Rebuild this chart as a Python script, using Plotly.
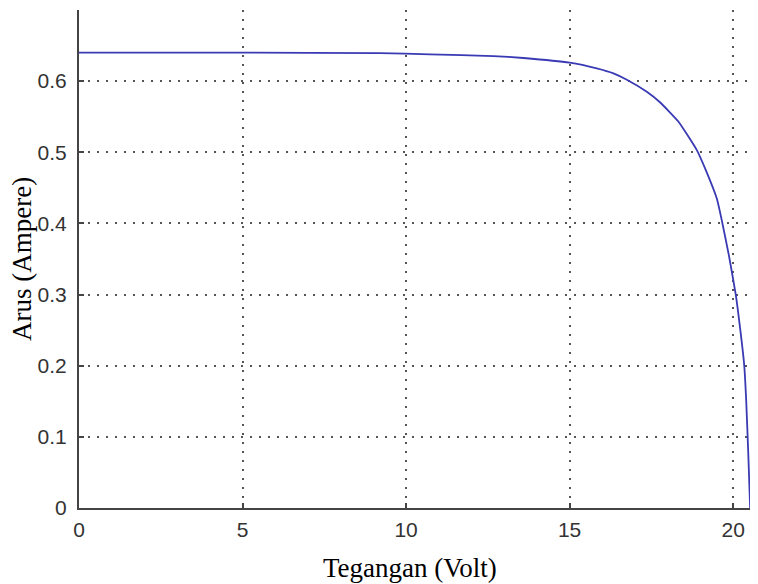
import plotly.graph_objects as go

# Data (I-V curve of a solar panel)
voltage = [0, 5, 9.2, 10.73, 12.67, 13.59, 15.0, 15.83, 16.34, 16.75, 17.36, 17.77,
           18.33, 18.89, 19.19, 19.5, 19.65, 19.87, 20.08, 20.22, 20.34, 20.40, 20.46, 20.52]
current = [0.64, 0.64, 0.6395, 0.6376, 0.6353, 0.6325, 0.626, 0.618, 0.611, 0.602, 0.585, 0.570,
           0.543, 0.503, 0.472, 0.435, 0.405, 0.355, 0.3, 0.25, 0.2, 0.15, 0.08, 0.0]

x_ticks = [0, 5, 10, 15, 20]
y_ticks = [0, 0.1, 0.2, 0.3, 0.4, 0.5, 0.6]
y_tick_labels = ["0", "0.1", "0.2", "0.3", "0.4", "0.5", "0.6"]
x_title = "Tegangan (Volt)"
y_title = "Arus (Ampere)"

x_range = [0, 20.76]
y_range = [0, 0.7]

axis_col = "#444444"
grid_col = "#555555"
tick_font = dict(family="Liberation Sans, Arial, sans-serif", size=21, color="#333333")

# The page body has an 8px default margin, so the figure is sized/shifted to compensate.
fig = go.Figure()
fig.add_trace(go.Scatter(
    x=voltage, y=current, mode="lines",
    line=dict(color="#3a3ab4", width=1.8, shape="spline", smoothing=0.4),
    showlegend=False, hoverinfo="skip",
))

fig.update_layout(
    width=750, height=576,
    margin=dict(l=71, r=0, t=2, b=76, autoexpand=False),
    paper_bgcolor="white", plot_bgcolor="white",
    xaxis=dict(
        range=x_range, tickvals=x_ticks, ticktext=[str(v) for v in x_ticks],
        showline=True, linecolor=axis_col, linewidth=2, automargin=False,
        ticks="inside", ticklen=5, tickwidth=1.5, tickcolor=axis_col,
        showgrid=True, gridcolor=grid_col, gridwidth=1.5, griddash="2px,7px",
        zeroline=False, tickfont=tick_font, ticklabelstandoff=2,
    ),
    xaxis2=dict(
        range=x_range, tickvals=x_ticks, overlaying="x", side="top",
        showline=True, linecolor=axis_col, linewidth=2, automargin=False,
        ticks="inside", ticklen=5, tickwidth=1.5, tickcolor=axis_col,
        showticklabels=False, showgrid=False, zeroline=False,
    ),
    yaxis=dict(
        range=y_range, tickvals=y_ticks, ticktext=y_tick_labels,
        showline=True, linecolor=axis_col, linewidth=2, automargin=False,
        ticks="inside", ticklen=5, tickwidth=1.5, tickcolor=axis_col,
        showgrid=True, gridcolor=grid_col, gridwidth=1.5, griddash="2px,7px",
        zeroline=False, tickfont=tick_font, ticklabelstandoff=6,
    ),
    annotations=[
        dict(text=x_title, xref="paper", yref="paper", x=(410 - 79) / 679, y=-(568 - 508) / 498,
             showarrow=False, xanchor="center", yanchor="middle",
             font=dict(family="Liberation Serif, Times New Roman, serif", size=27, color="black")),
        dict(text=y_title, xref="paper", yref="paper", x=-(79 - 22) / 679, y=(508 - 259) / 498,
             showarrow=False, xanchor="center", yanchor="middle", textangle=-90,
             font=dict(family="Liberation Serif, Times New Roman, serif", size=27, color="black")),
    ],
)

fig.write_html("out.html")
